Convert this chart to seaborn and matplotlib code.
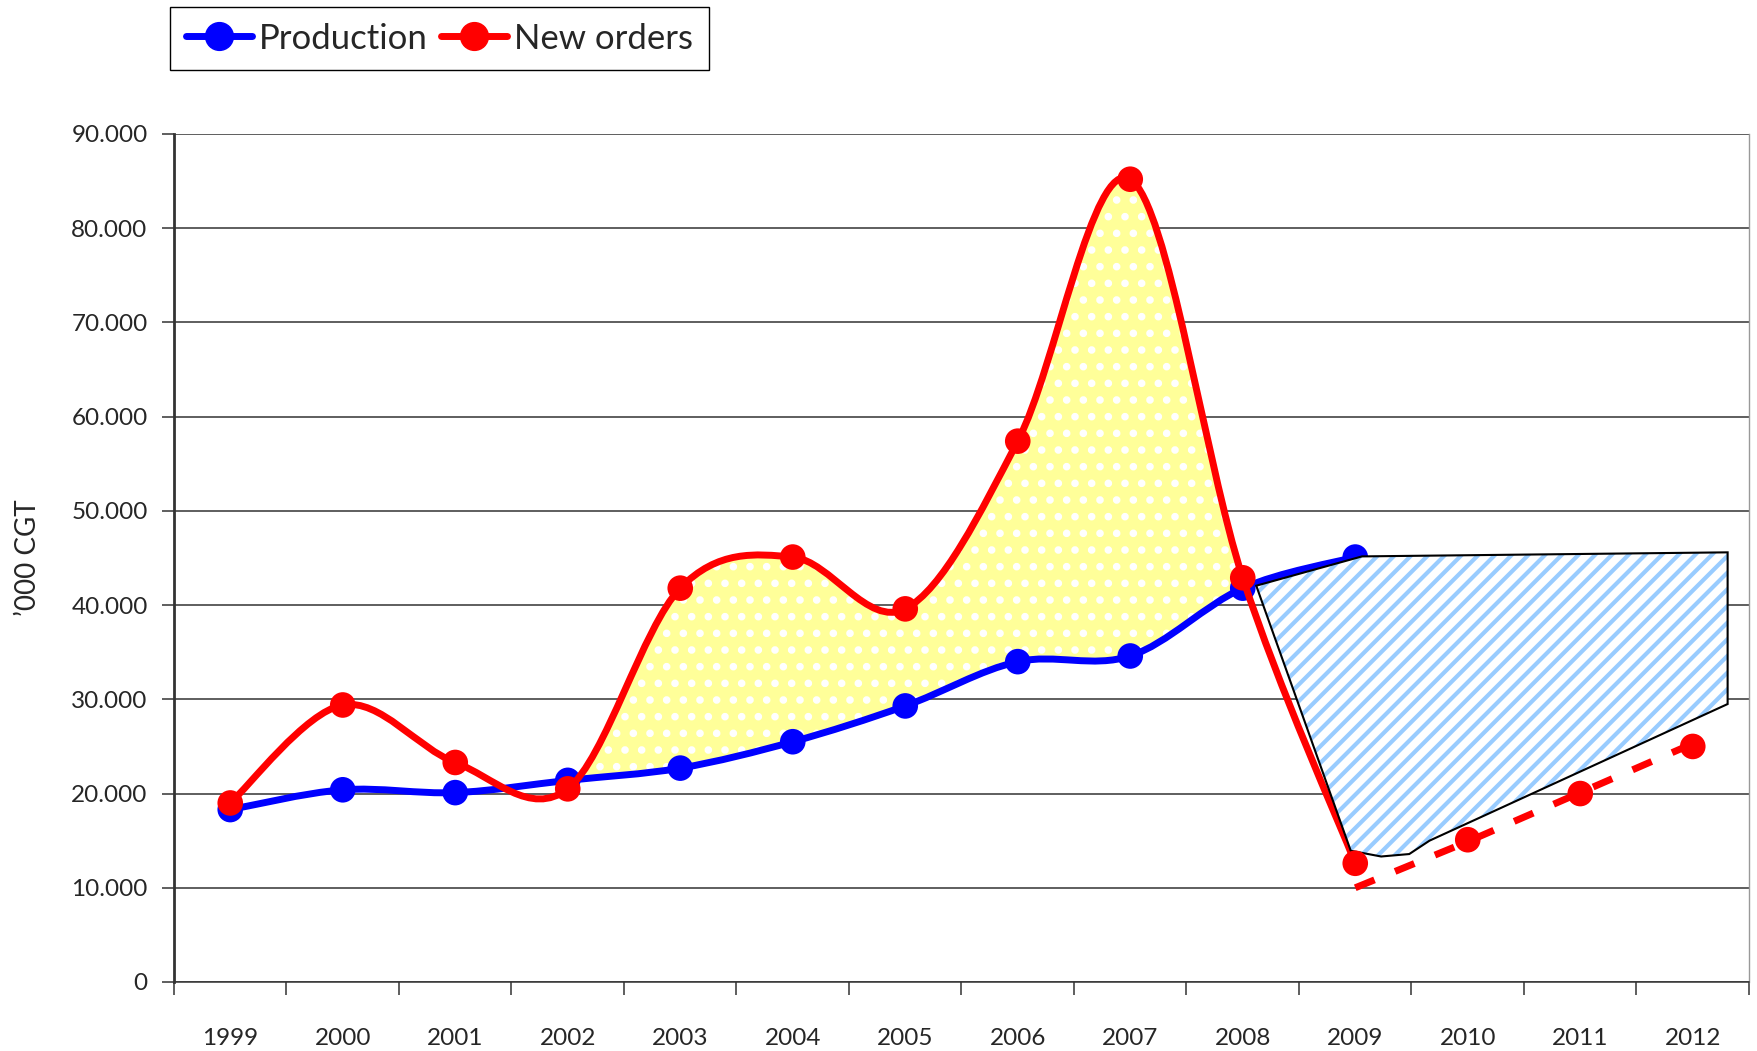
import numpy as np
import pandas as pd
import seaborn as sns
import matplotlib.pyplot as plt
from matplotlib.path import Path
from matplotlib.patches import PathPatch, Polygon
from matplotlib.lines import Line2D
from matplotlib.ticker import FuncFormatter, FixedLocator

years = ['1999', '2000', '2001', '2002', '2003', '2004', '2005',
         '2006', '2007', '2008', '2009', '2010', '2011', '2012']
# '000 CGT
production = [18300, 20400, 20100, 21400, 22700, 25500, 29300, 34000, 34600, 41800, 45100]
new_orders = [19000, 29400, 23300, 20500, 41800, 45100, 39600, 57400, 85200, 42900, 12600]
orders_forecast = [15100, 20000, 25000]            # 2010-2012
forecast_trend = [10000, 14900, 20100, 25300]      # dashed line 2009-2012
# outline of the hatched gap (x = category index)
band_x = [9.12, 10.06, 13.31, 13.31, 10.66, 10.48, 10.23, 9.96]
band_y = [42060, 45170, 45600, 29500, 15000, 13580, 13320, 13930]

BLUE = '#0000FF'
RED = '#FF0000'

sns.set_style('white')
plt.rcParams['font.family'] = ['Lato', 'DejaVu Sans']
plt.rcParams['hatch.linewidth'] = 3.0


def bezier_segments(ys):
    # Excel-like smoothing (Catmull-Rom as cubic Bezier)
    pts = np.column_stack([np.arange(len(ys)), ys]).astype(float)
    n = len(pts)
    segs = []
    for i in range(n - 1):
        p0, p1 = pts[max(i - 1, 0)], pts[i]
        p2, p3 = pts[i + 1], pts[min(i + 2, n - 1)]
        segs.append((p1, p1 + (p2 - p0) / 6, p2 - (p3 - p1) / 6, p2))
    return segs


def smooth_path(ys):
    segs = bezier_segments(ys)
    verts = [segs[0][0]]
    codes = [Path.MOVETO]
    for s in segs:
        verts += [s[1], s[2], s[3]]
        codes += [Path.CURVE4] * 3
    return Path(verts, codes)


fig = plt.figure(figsize=(17.58, 10.51), dpi=100)
ax = fig.add_axes([174 / 1758, 1 - 982 / 1051, 1575 / 1758, 848 / 1051])

# yellow area between new orders and production (2002-2008)
rs = bezier_segments(new_orders)
bs = bezier_segments(production)
verts = [rs[3][0]]
codes = [Path.MOVETO]
for s in rs[3:9]:
    verts += [s[1], s[2], s[3]]
    codes += [Path.CURVE4] * 3
verts.append(bs[8][3])
codes.append(Path.LINETO)
for s in reversed(bs[3:9]):
    verts += [s[2], s[1], s[0]]
    codes += [Path.CURVE4] * 3
verts.append(verts[0])
codes.append(Path.CLOSEPOLY)
ax.add_patch(PathPatch(Path(verts, codes), facecolor='#FFFF99', edgecolor='white',
                       hatch='.', lw=3, zorder=2))

# smooth lines
ax.add_patch(PathPatch(smooth_path(production), fill=False, edgecolor=BLUE, lw=5,
                       capstyle='round', zorder=3))
ax.add_patch(PathPatch(smooth_path(new_orders), fill=False, edgecolor=RED, lw=5,
                       capstyle='round', zorder=4))

df_p = pd.DataFrame({'x': np.arange(len(production)), 'y': production})
df_o = pd.DataFrame({'x': np.arange(len(new_orders)), 'y': new_orders})
df_f = pd.DataFrame({'x': np.arange(11, 14), 'y': orders_forecast})
df_t = pd.DataFrame({'x': np.arange(10, 14), 'y': forecast_trend})

sns.scatterplot(data=df_p, x='x', y='y', color=BLUE, s=340, edgecolor='none', ax=ax, zorder=3.5)
sns.lineplot(data=df_t, x='x', y='y', color=RED, lw=5, ax=ax, zorder=4)
ax.lines[-1].set_dashes([3, 3.2])
sns.scatterplot(data=df_o, x='x', y='y', color=RED, s=340, edgecolor='none', ax=ax, zorder=5)
sns.scatterplot(data=df_f, x='x', y='y', color=RED, s=340, edgecolor='none', ax=ax, zorder=5)

# hatched gap area
band = np.column_stack([band_x, band_y])
ax.add_patch(Polygon(band, closed=True, facecolor='white', edgecolor='#99CCFF',
                     hatch='//', lw=0, zorder=4.5))
ax.add_patch(Polygon(band, closed=True, fill=False, edgecolor='black', lw=1.5, zorder=4.6))

ax.set_xlim(-0.5, 13.5)
ax.set_ylim(0, 90000)
ax.yaxis.set_major_locator(FixedLocator(np.arange(0, 90001, 10000)))
ax.yaxis.set_major_formatter(FuncFormatter(lambda v, p: f'{v:,.0f}'.replace(',', '.')))
ax.grid(axis='y', color='#333333', lw=1.1, zorder=0)
ax.set_axisbelow(True)

ax.set_xticks(np.arange(-0.5, 14, 1))
ax.set_xticklabels([])
ax.set_xticks(np.arange(14), minor=True)
ax.set_xticklabels(years, minor=True)
ax.tick_params(axis='x', which='major', direction='out', length=9, width=1.1, color='#333333', bottom=True)
ax.tick_params(axis='x', which='minor', length=0, pad=33, labelsize=17.5)
ax.tick_params(axis='y', direction='out', length=9, width=1.1, color='#333333', left=True,
               pad=10, labelsize=17.5)
ax.set_xlabel('')
ax.set_ylabel('’000 CGT', fontsize=20, labelpad=22)

ax.spines['top'].set_visible(False)
ax.spines['left'].set_color('#333333')
ax.spines['left'].set_linewidth(2)
ax.spines['bottom'].set_color('#333333')
ax.spines['bottom'].set_linewidth(1.1)
ax.spines['right'].set_color('#999999')
ax.spines['right'].set_linewidth(1)

handles = [Line2D([], [], color=BLUE, lw=5, marker='o', markersize=20, label='Production'),
           Line2D([], [], color=RED, lw=5, marker='o', markersize=20, label='New orders')]
fig.legend(handles=handles, loc='upper left', bbox_to_anchor=(170 / 1758, 1 - 7 / 1051),
           ncol=2, frameon=True, fancybox=False, edgecolor='black', framealpha=1,
           fontsize=25, handlelength=1.9, handletextpad=0.2, columnspacing=0.4,
           borderpad=0.45, borderaxespad=0)

fig.savefig('out.png', dpi=100)
